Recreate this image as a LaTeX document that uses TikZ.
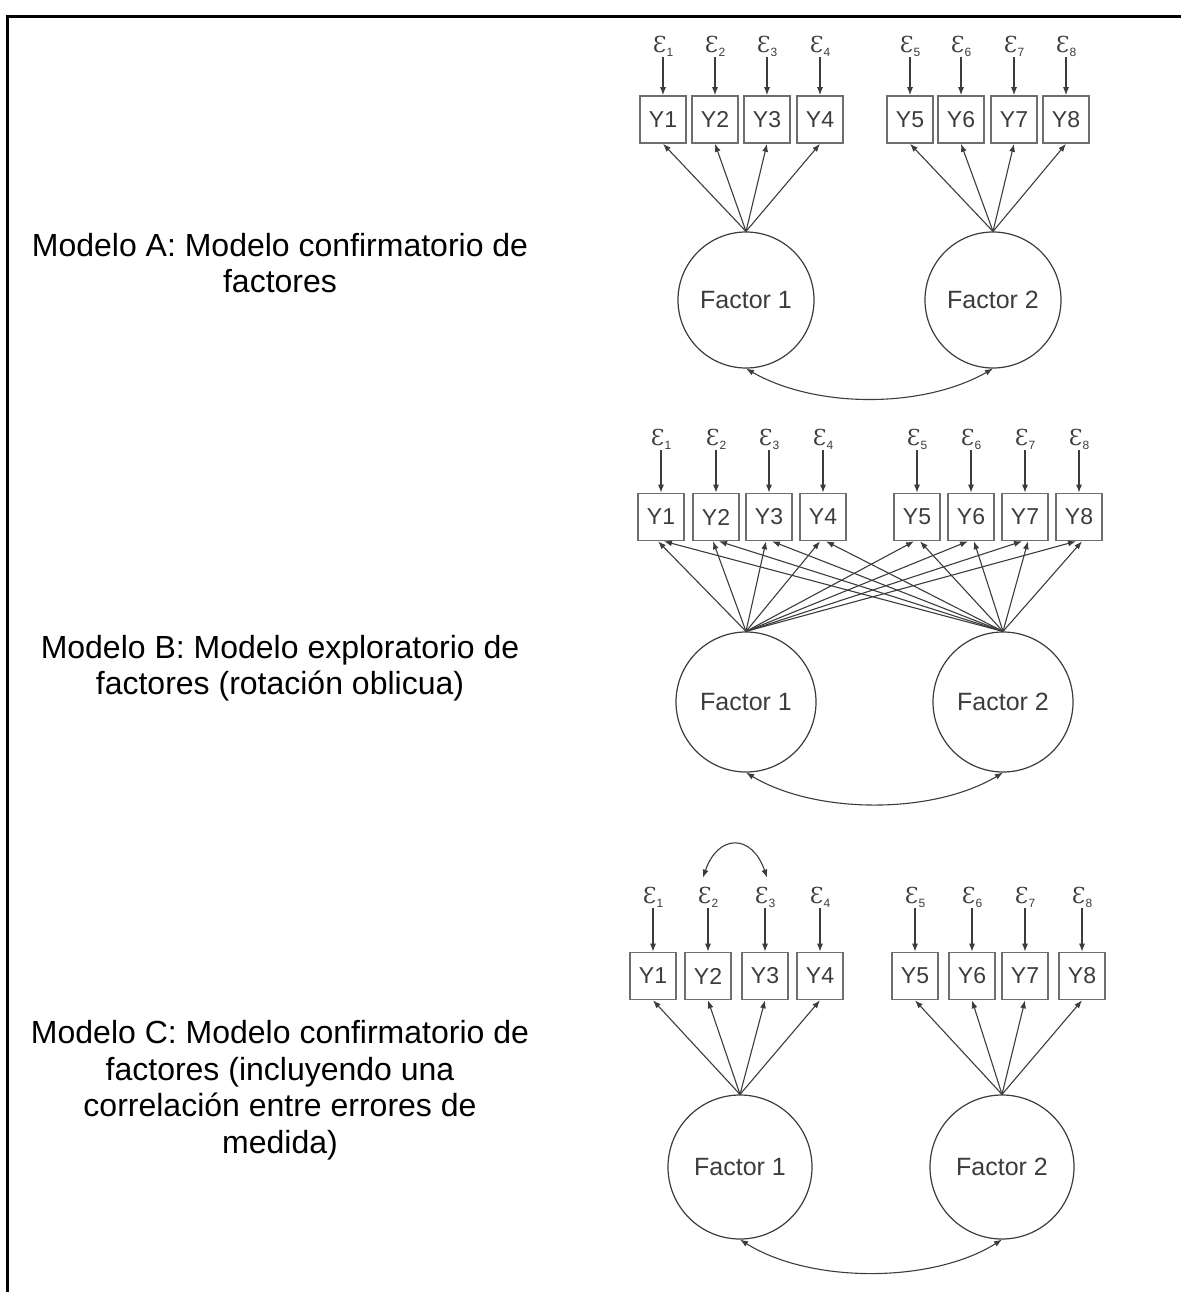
\documentclass[tikz,border=0pt]{standalone}
\usepackage{fontspec}
\setmainfont{Liberation Sans}
\newfontfamily\epsfont{DejaVu Serif}
\usetikzlibrary{arrows.meta}

\definecolor{diagray}{HTML}{3C3C3C}
\definecolor{boxgray}{HTML}{6E6E6E}

% error term: open E with a small index
\newcommand{\errlabel}[1]{{\epsfont\fontsize{22}{22}\selectfont Ɛ}\raisebox{-4pt}{\fontsize{12}{12}\selectfont #1}}

\tikzset{
	obs/.style={draw=boxgray, line width=1.6pt, minimum width=46pt, minimum height=47pt, inner sep=0pt, text=diagray, font=\fontsize{23}{23}\selectfont},
	latent/.style={draw=diagray, circle, line width=1.2pt, inner sep=0pt, text=diagray, font=\fontsize{25}{25}\selectfont},
	errnode/.style={inner sep=1pt, text=diagray},
	regarrow/.style={-{Latex[length=8pt,width=6pt]}, draw=diagray, line width=1.1pt},
	covarrow/.style={{Latex[length=8pt,width=6pt]}-{Latex[length=8pt,width=6pt]}, draw=diagray, line width=1.1pt},
	modlabel/.style={align=center, font=\fontsize{32}{36.5}\selectfont}
}

\begin{document}
\begin{tikzpicture}[x=1pt,y=-1pt]
	\useasboundingbox (0,0) rectangle (1181,1292);
	\draw[line width=3pt] (7,1292) -- (7,17) -- (1181,17);

	% Modelo A
	\node[modlabel] (labela) at (280,263) {Modelo A: Modelo confirmatorio de\\factores};
	\foreach \i/\x in {1/663,2/715,3/767,4/820,5/910,6/961,7/1014,8/1066} {
		\node[errnode] (ae\i) at (\x,46) {\errlabel{\i}};
		\node[obs] (ay\i) at (\x,119.5) {Y\i};
		\draw[regarrow] (ae\i) -- (ay\i);
	}
	\node[latent, minimum size=136pt] (af1) at (746,300) {Factor 1};
	\node[latent, minimum size=136pt] (af2) at (993,300) {Factor 2};
	\foreach \i in {1,...,4} \draw[regarrow] (af1.north) -- (ay\i.south);
	\foreach \i in {5,...,8} \draw[regarrow] (af2.north) -- (ay\i.south);
	\draw[covarrow] (af1.south) .. controls +(70,40) and +(-70,40) .. (af2.south);

	% Modelo B
	\node[modlabel] (labelb) at (280,668) {Modelo B: Modelo exploratorio de\\factores (rotación oblicua)};
	\foreach \i/\x in {1/661,2/716,3/769,4/823,5/917,6/971,7/1025,8/1079} {
		\node[errnode] (be\i) at (\x,439) {\errlabel{\i}};
		\node[obs] (by\i) at (\x,517) {Y\i};
		\draw[regarrow] (be\i) -- (by\i);
	}
	\node[latent, minimum size=140pt] (bf1) at (746,702) {Factor 1};
	\node[latent, minimum size=140pt] (bf2) at (1003,702) {Factor 2};
	\foreach \i in {1,...,8} {
		\draw[regarrow] (bf1.north) -- ([xshift=-3pt]by\i.south);
		\draw[regarrow] (bf2.north) -- ([xshift=3pt]by\i.south);
	}
	\draw[covarrow] (bf1.south) .. controls +(70,42) and +(-70,42) .. (bf2.south);

	% Modelo C
	\node[modlabel] (labelc) at (280,1090) {Modelo C: Modelo confirmatorio de\\factores (incluyendo una\\correlación entre errores de\\medida)};
	\foreach \i/\x in {1/653,2/708,3/765,4/820,5/915,6/972,7/1025,8/1082} {
		\node[errnode] (ce\i) at (\x,897) {\errlabel{\i}};
		\node[obs] (cy\i) at (\x,976) {Y\i};
		\draw[regarrow] (ce\i) -- (cy\i);
	}
	\coordinate (cc2) at ([xshift=-5pt,yshift=8pt]ce2.north);
	\coordinate (cc3) at ([xshift=2pt,yshift=8pt]ce3.north);
	\draw[covarrow] (cc2) .. controls +(15,-44) and +(-15,-44) .. (cc3);
	\node[latent, minimum size=144pt] (cf1) at (740,1167) {Factor 1};
	\node[latent, minimum size=144pt] (cf2) at (1002,1167) {Factor 2};
	\foreach \i in {1,...,4} \draw[regarrow] (cf1.north) -- (cy\i.south);
	\foreach \i in {5,...,8} \draw[regarrow] (cf2.north) -- (cy\i.south);
	\draw[covarrow] (cf1.south) .. controls +(70,44) and +(-70,44) .. (cf2.south);
\end{tikzpicture}
\end{document}
